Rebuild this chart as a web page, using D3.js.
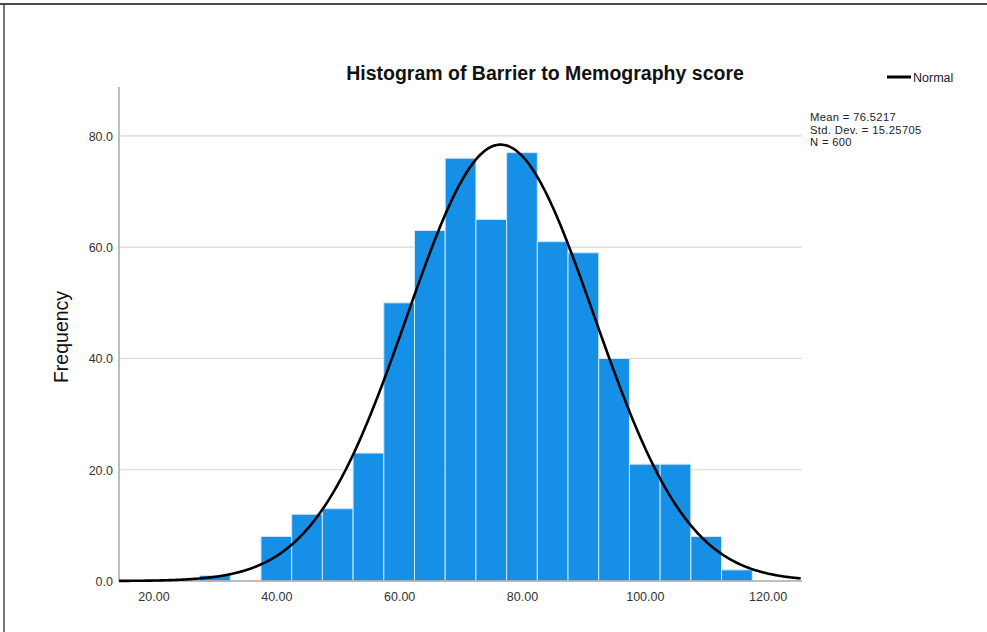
<!DOCTYPE html>
<html>
<head>
<meta charset="utf-8">
<script src="https://cdn.jsdelivr.net/npm/d3@7"></script>
<style>
  html, body { margin: 0; padding: 0; background: #fff; }
  svg { display: block; font-family: "Liberation Sans", Arial, sans-serif; }
</style>
</head>
<body>
<svg id="chart" width="987" height="632"></svg>
<script>
// Histogram bins (5-point wide, labelled by their centre) and counts
const binCenters = [30, 35, 40, 45, 50, 55, 60, 65, 70, 75, 80, 85, 90, 95, 100, 105, 110, 115];
const binCounts  = [1, 0, 8, 12, 13, 23, 50, 63, 76, 65, 77, 61, 59, 40, 21, 21, 8, 2];
const binWidth = 5;

// Descriptive statistics for the fitted normal curve
const statMean = 76.5217;
const statSD = 15.25705;
const statN = 600;

// Axis ticks
const xTicks = [20, 40, 60, 80, 100, 120];
const yTicks = [0, 20, 40, 60, 80];

const svg = d3.select("#chart");

const plot = { left: 119, right: 802, top: 87, bottom: 581 };

const x = d3.scaleLinear()
  .domain([14.38, 125.6])
  .range([plot.left, plot.right]);

const y = d3.scaleLinear()
  .domain([0, 88.8])
  .range([plot.bottom, plot.top]);

// Outer frame (top and left edges)
svg.append("line").attr("x1", 0).attr("x2", 987).attr("y1", 4).attr("y2", 4)
  .attr("stroke", "#4a4a4a").attr("stroke-width", 2);
svg.append("line").attr("x1", 4).attr("x2", 4).attr("y1", 3).attr("y2", 632)
  .attr("stroke", "#4a4a4a").attr("stroke-width", 1.5);

// Horizontal gridlines
svg.append("g").selectAll("line")
  .data(yTicks.filter(d => d > 0))
  .join("line")
  .attr("x1", plot.left).attr("x2", plot.right)
  .attr("y1", d => y(d)).attr("y2", d => y(d))
  .attr("stroke", "#d6d6d6").attr("stroke-width", 1.2);

// Bars
svg.append("g").selectAll("rect")
  .data(binCenters.map((c, i) => ({ c, n: binCounts[i] })).filter(d => d.n > 0))
  .join("rect")
  .attr("x", d => x(d.c - binWidth / 2))
  .attr("width", d => x(d.c + binWidth / 2) - x(d.c - binWidth / 2))
  .attr("y", d => y(d.n))
  .attr("height", d => y(0) - y(d.n))
  .attr("fill", "#1590e6")
  .attr("stroke", "#cfe6f8")
  .attr("stroke-width", 1);

// Axis lines
svg.append("line").attr("x1", plot.left).attr("x2", plot.right)
  .attr("y1", plot.bottom).attr("y2", plot.bottom)
  .attr("stroke", "#a8a8a8").attr("stroke-width", 1.5);
svg.append("line").attr("x1", plot.left).attr("x2", plot.left)
  .attr("y1", plot.top).attr("y2", plot.bottom)
  .attr("stroke", "#a8a8a8").attr("stroke-width", 1.5);

// Y axis labels
const yAxis = d3.axisLeft(y).tickValues(yTicks).tickFormat(d3.format(".1f")).tickSize(0).tickPadding(6);
const gy = svg.append("g").attr("transform", `translate(${plot.left},0)`).call(yAxis);
gy.select(".domain").remove();
gy.selectAll("text").attr("font-family", "Liberation Sans, Arial, sans-serif")
  .attr("font-size", 12.5).attr("fill", "#333").attr("dy", "0.35em");

// X axis labels
const xAxis = d3.axisBottom(x).tickValues(xTicks).tickFormat(d3.format(".2f")).tickSize(0).tickPadding(11);
const gx = svg.append("g").attr("transform", `translate(0,${plot.bottom})`).call(xAxis);
gx.select(".domain").remove();
gx.selectAll("text").attr("font-family", "Liberation Sans, Arial, sans-serif")
  .attr("font-size", 12.5).attr("fill", "#333");

// Fitted normal curve scaled to counts
const scaleFactor = statN * binWidth / (statSD * Math.sqrt(2 * Math.PI));
const normalPts = d3.range(x.domain()[0], x.domain()[1] + 0.001, 0.25).map(v => {
  const z = (v - statMean) / statSD;
  return [v, scaleFactor * Math.exp(-0.5 * z * z)];
});
svg.append("path")
  .datum(normalPts)
  .attr("fill", "none")
  .attr("stroke", "#000")
  .attr("stroke-width", 2.6)
  .attr("d", d3.line().x(d => x(d[0])).y(d => y(d[1])).curve(d3.curveBasis));

// Title
svg.append("text")
  .attr("x", 545).attr("y", 80)
  .attr("text-anchor", "middle")
  .attr("font-size", 19.5).attr("font-weight", "bold").attr("fill", "#111")
  .text("Histogram of Barrier to Memography score");

// Y axis title
svg.append("text")
  .attr("transform", `translate(68,337) rotate(-90)`)
  .attr("text-anchor", "middle")
  .attr("font-size", 19.5).attr("fill", "#111")
  .text("Frequency");

// Legend
svg.append("line").attr("x1", 887).attr("x2", 911).attr("y1", 77).attr("y2", 77)
  .attr("stroke", "#000").attr("stroke-width", 3);
svg.append("text").attr("x", 913).attr("y", 82)
  .attr("font-size", 12.5).attr("fill", "#222").text("Normal");

// Statistics box
const stats = [
  `Mean = ${statMean}`,
  `Std. Dev. = ${statSD}`,
  `N = ${statN}`
];
svg.append("g").selectAll("text")
  .data(stats)
  .join("text")
  .attr("x", 810)
  .attr("y", (d, i) => 121 + i * 12.5)
  .attr("font-size", 11.2).attr("letter-spacing", 0.35).attr("fill", "#222")
  .text(d => d);
</script>
</body>
</html>
